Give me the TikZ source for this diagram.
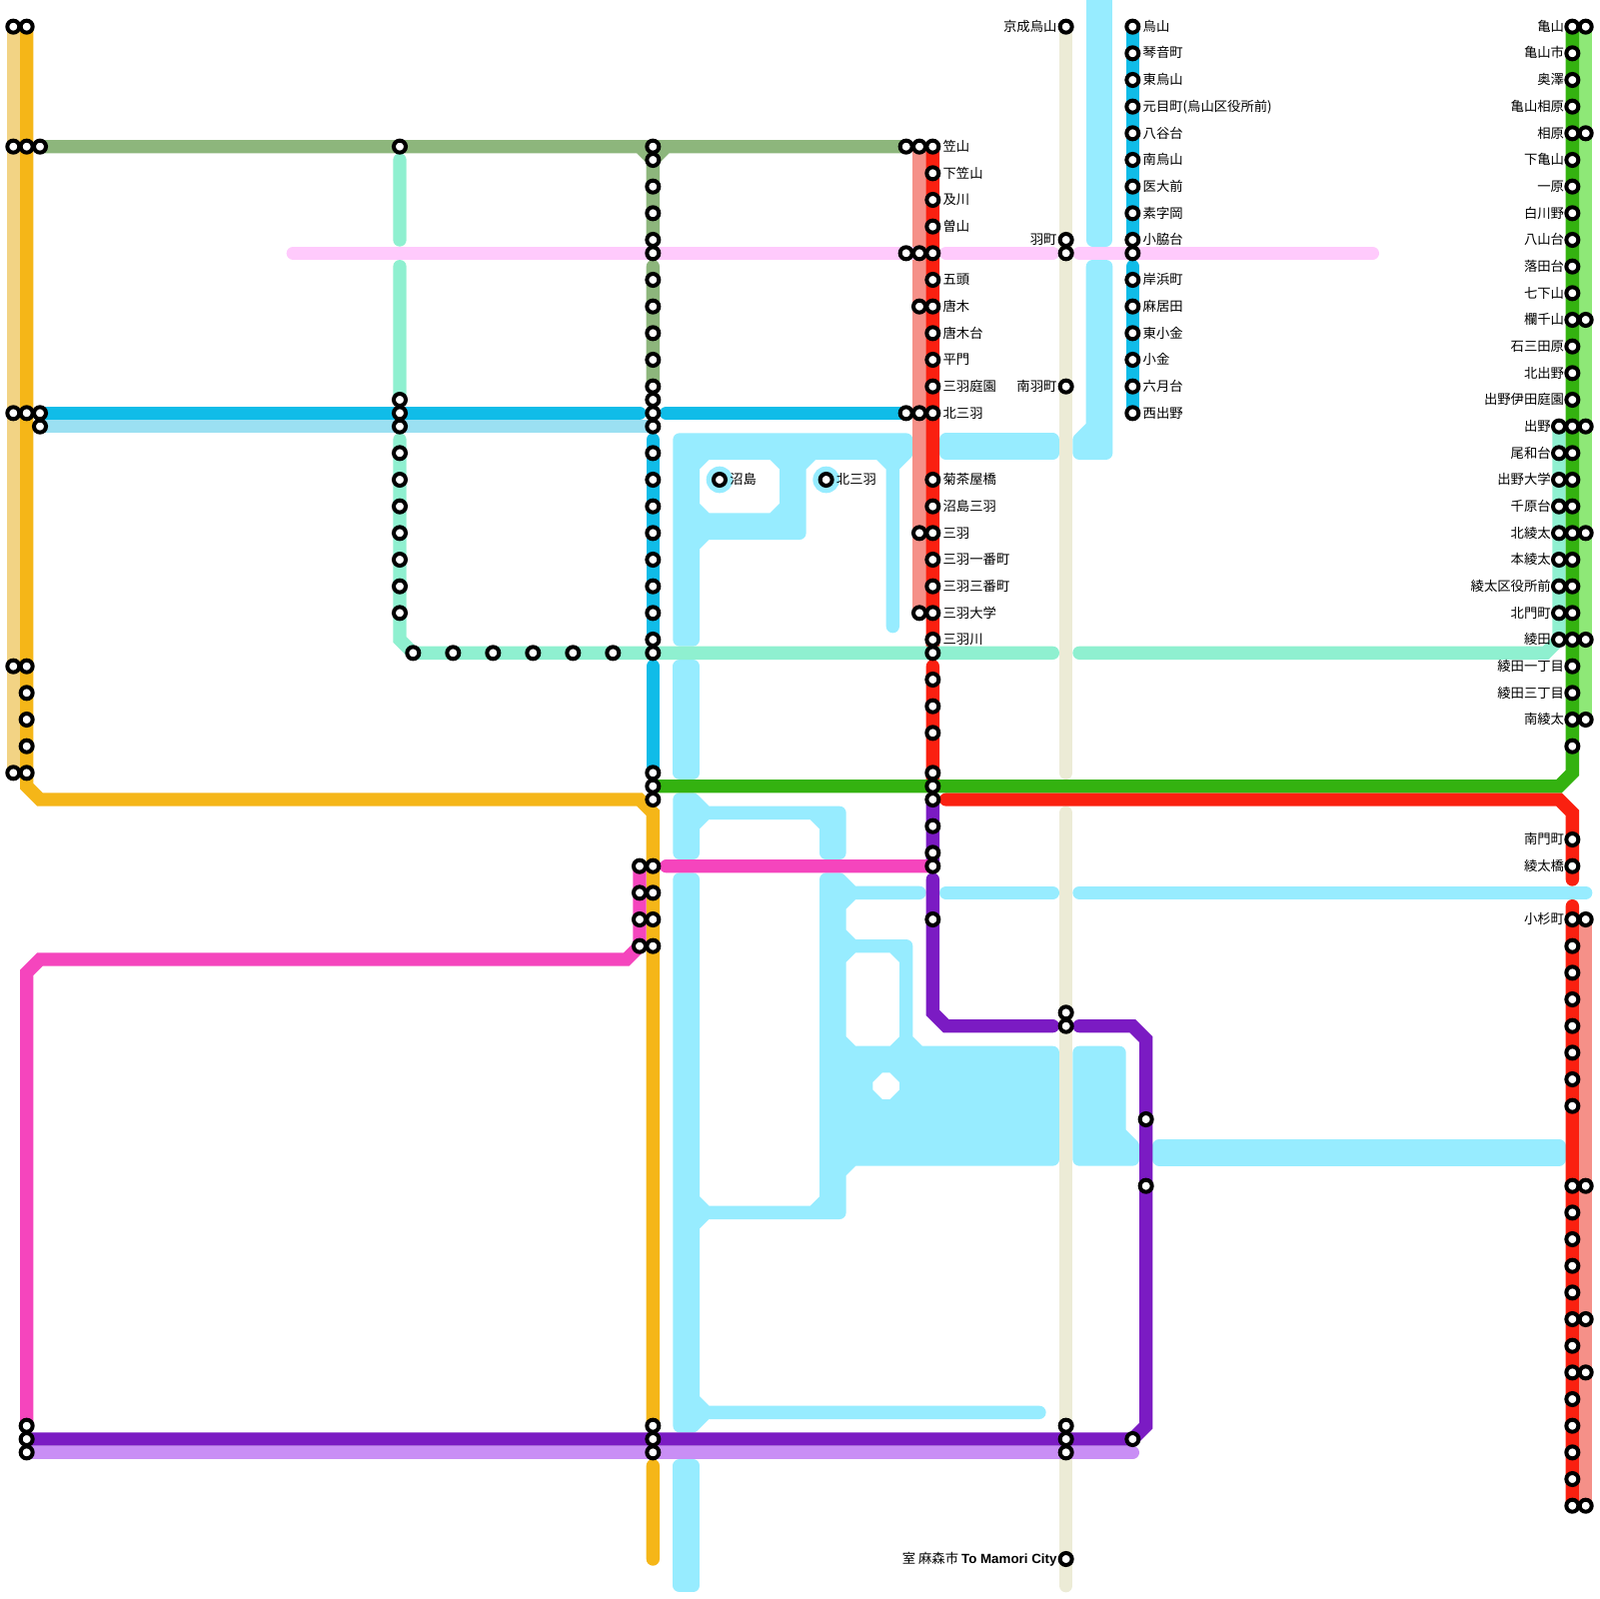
\documentclass[tikz,border=0pt]{standalone}
\usepackage{fontspec}
\setmainfont{Noto Sans CJK JP}
\newfontfamily\latn{Liberation Sans}
\usetikzlibrary{positioning}
\pgfdeclarelayer{back}
\pgfsetlayers{back,main}
\definecolor{cOrange}{HTML}{F5B618}
\definecolor{cTan}{HTML}{F2D384}
\definecolor{cSage}{HTML}{8DB67C}
\definecolor{cMint}{HTML}{8FF0D0}
\definecolor{cBlue}{HTML}{10BCE8}
\definecolor{cPale}{HTML}{9BE0F2}
\definecolor{cRed}{HTML}{FA2010}
\definecolor{cSalmon}{HTML}{F59088}
\definecolor{cGreen}{HTML}{34B210}
\definecolor{cLime}{HTML}{8EE877}
\definecolor{cPurple}{HTML}{7B1BC3}
\definecolor{cLilac}{HTML}{C98EF5}
\definecolor{cPink}{HTML}{F545BD}
\definecolor{cRose}{HTML}{FFCAFC}
\definecolor{cBeige}{HTML}{ECEBD6}
\definecolor{cWater}{HTML}{97ECFF}

\begin{document}
\begin{tikzpicture}[x=3mm,y=-3mm,font=\fontsize{8.54pt}{10pt}\selectfont]
  \tikzstyle{stn}=[circle,draw=black,fill=white,line width=0.9mm,inner sep=0pt,minimum size=2.7mm]
  \tikzstyle{txt}=[inner sep=0pt,text height=2.55mm,text depth=0.45mm]
  \tikzstyle{ln}=[line width=3mm,line cap=round]
  \tikzstyle{water}=[ln,draw=cWater,fill=cWater,even odd rule,line join=round]
  \tikzstyle{halo}=[circle,fill=cWater,inner sep=0pt,minimum size=6mm]

  \useasboundingbox (0,0) rectangle (120,120);

  \foreach \x/\rows in {1/{2,11,31,50,58},
      2/{2,11,31,50,52,54,56,58,107,108,109},
      3/{11,31,32},
      30/{11,30,31,32,34,36,38,40,42,44,46},
      31/{49},34/{49},37/{49},40/{49},43/{49},46/{49},
      48/{65,67,69,71},
      49/{11,12,14,16,18,19,21,23,25,27,29,30,31,32,34,36,38,40,42,44,46,48,49,58,59,60,65,67,69,71,107,108,109},
      54/{36},62/{36},
      68/{11,19,31},
      69/{11,19,23,31,40,46},
      70/{11,13,15,17,19,21,23,25,27,29,31,36,38,40,42,44,46,48,49,51,53,55,58,59,60,62,64,65,69},
      80/{2,18,19,29,76,77,107,108,109,117},
      85/{2,4,6,8,10,12,14,16,18,19,21,23,25,27,29,31,108},
      86/{84,89},
      117/{32,34,36,38,40,42,44,46,48},
      118/{2,4,6,8,10,12,14,16,18,20,22,24,26,28,30,32,34,36,38,40,42,44,46,48,50,52,54,56,63,65,69,71,73,75,77,79,81,83,89,91,93,95,97,99,101,103,105,107,109,111,113},
      119/{2,10,24,32,40,48,54,69,89,99,103,113}}
    \foreach \y in \rows
      \node[stn] (s\x-\y) at (\x,\y) {};

  \foreach \y/\t in {2/烏山,4/琴音町,6/東烏山,8/元目町(烏山区役所前),10/八谷台,12/南烏山,14/医大前,16/素字岡,18/小脇台,21/岸浜町,23/麻居田,25/東小金,27/小金,29/六月台,31/西出野}
    \node[txt] (t85-\y) [right=0.45mm of s85-\y] {\t};
  \foreach \y/\t in {11/笠山,13/下笠山,15/及川,17/曽山,21/五頭,23/唐木,25/唐木台,27/平門,29/三羽庭園,31/北三羽,36/菊茶屋橋,38/沼島三羽,40/三羽,42/三羽一番町,44/三羽三番町,46/三羽大学,48/三羽川}
    \node[txt] (t70-\y) [right=0.45mm of s70-\y] {\t};
  \foreach \y/\t in {2/京成烏山,18/羽町,29/南羽町}
    \node[txt] (t80-\y) [left=0.2mm of s80-\y] {\t};
  \node[txt] (t80-117) [left=0.2mm of s80-117] {室 麻森市 {\latn\bfseries To Mamori City}};
  \node[txt] (t54-36) [right=0.45mm of s54-36] {沼島};
  \node[txt] (t62-36) [right=0.45mm of s62-36] {北三羽};
  \foreach \y/\t in {2/亀山,4/亀山市,6/奥澤,8/亀山相原,10/相原,12/下亀山,14/一原,16/白川野,18/八山台,20/落田台,22/七下山,24/欄千山,26/石三田原,28/北出野,30/出野伊田庭園,50/綾田一丁目,52/綾田三丁目,54/南綾太,63/南門町,65/綾太橋,69/小杉町}
    \node[txt] (t118-\y) [left=0mm of s118-\y] {\t};
  \foreach \y/\t in {32/出野,34/尾和台,36/出野大学,38/千原台,40/北綾太,42/本綾太,44/綾太区役所前,46/北門町,48/綾田}
    \node[txt] (t117-\y) [left=0mm of s117-\y] {\t};

  \foreach \x/\y in {2/59,3/60,48/60,49/61,49/110,49/117,48/11,50/11,49/18,49/20,
      30/12,30/18,30/20,30/33,30/48,31/49,79/49,81/49,116/49,48/31,50/31,49/33,49/50,
      85/20,70/50,71/60,117/60,118/61,118/66,118/68,117/59,118/58,
      86/107,86/78,85/77,81/77,79/77,71/77,70/76,70/66,85/109,50/65,
      80/58,80/61,80/119,22/19,71/19,79/19,81/19,103/19,
      2/73,3/72,47/72}
    \coordinate (p\x-\y) at (\x,\y);

  \begin{pgfonlayer}{back}
    \path[water] (82,0) -- (83,0) -- (83,18) -- (82,18) -- cycle;
    \path[water] (82,20) -- (83,20) -- (83,34) -- (81,34) -- (81,33) -- (82,32) -- cycle;
    \path[water] (51,33) -- (68,33) -- (68,34) -- (67,35) -- (67,47) -- (67,35) -- (66,34) -- (61,34)
        -- (60,35) -- (60,40) -- (53,40) -- (52,41) -- (52,48) -- (51,48) -- cycle
        (52,35) -- (53,34) -- (58,34) -- (59,35) -- (59,38) -- (58,39) -- (53,39) -- (52,38) -- cycle;
    \path[water] (71,33) -- (79,33) -- (79,34) -- (71,34) -- cycle;
    \path[water] (51,50) -- (52,50) -- (52,58) -- (51,58) -- cycle;
    \path[water] (51,60) -- (52,60) -- (53,61) -- (63,61) -- (63,64) -- (62,64) -- (62,62) -- (61,61)
        -- (53,61) -- (52,62) -- (52,64) -- (51,64) -- cycle;
    \path[water] (51,66) -- (52,66) -- (52,90) -- (53,91) -- (61,91) -- (62,90) -- (62,66) -- (63,66)
        -- (64,67) -- (69,67) -- (64,67) -- (63,68) -- (63,70) -- (64,71) -- (68,71) -- (68,78) -- (69,79)
        -- (79,79) -- (79,87) -- (64,87) -- (63,88) -- (63,91) -- (53,91) -- (52,92) -- (52,105) -- (53,106)
        -- (78,106) -- (53,106) -- (52,107) -- (51,107) -- cycle
        (63,72) -- (64,71) -- (67,71) -- (68,72) -- (68,78) -- (67,79) -- (64,79) -- (63,78) -- cycle
        (65,81) -- (66,80) -- (67,80) -- (68,81) -- (68,82) -- (67,83) -- (66,83) -- (65,82) -- cycle;
    \path[water] (51,110) -- (52,110) -- (52,119) -- (51,119) -- cycle;
    \path[water] (71,67) -- (79,67);
    \path[water] (81,67) -- (119,67);
    \path[water] (81,79) -- (84,79) -- (84,85) -- (85,86) -- (85,87) -- (81,87) -- cycle;
    \path[water] (87,86) -- (117,86) -- (117,87) -- (87,87) -- cycle;
    \node[halo] (h54) at (54,36) {};
    \node[halo] (h62) at (62,36) {};

    \draw[ln,cBeige] (s80-2.center) -- (p80-58) (p80-61) -- (p80-119);
    \draw[ln,cTan] (s1-2.center) -- (s1-58.center);
    \draw[ln,cOrange] (s2-2.center) -- (p2-59) -- (p3-60) -- (p48-60) -- (p49-61) -- (s49-107.center)
        (p49-110) -- (p49-117);
    \draw[ln,cSage] (s3-11.center) -- (s68-11.center)
        (p48-11) -- (s49-12.center) -- (p50-11)
        (s49-12.center) -- (p49-18)
        (p49-20) -- (s49-29.center);
    \draw[ln,cPale] (s3-32.center) -- (s49-32.center);
    \draw[ln,cBlue] (s3-31.center) -- (p48-31) (p50-31) -- (s68-31.center)
        (p49-33) -- (s49-48.center) (p49-50) -- (s49-58.center)
        (s85-2.center) -- (s85-18.center) (p85-20) -- (s85-31.center);
    \draw[ln,cSalmon] (s69-11.center) -- (s69-46.center);
    \draw[ln,cRed] (s70-11.center) -- (s70-49.center) (p70-50) -- (s70-59.center)
        (p71-60) -- (p117-60) -- (p118-61) -- (p118-66)
        (p118-68) -- (s118-113.center);
    \draw[ln,cSalmon] (s119-69.center) -- (s119-113.center);
    \draw[ln,cLime] (s119-2.center) -- (s119-54.center);
    \draw[ln,cMint] (p30-12) -- (p30-18) (p30-20) -- (s30-30.center)
        (p30-33) -- (p30-48) -- (p31-49) -- (p79-49)
        (p81-49) -- (p116-49) -- (s117-48.center) -- (s117-32.center);
    \draw[ln,cGreen] (s49-59.center) -- (p117-59) -- (p118-58) -- (s118-2.center);
    \draw[ln,cRose] (p22-19) -- (s69-19.center) (p71-19) -- (p79-19) (p81-19) -- (p103-19);
    \draw[ln,cLilac] (s2-109.center) -- (p85-109);
    \draw[ln,cPurple] (s2-108.center) -- (s85-108.center) -- (p86-107) -- (p86-78) -- (p85-77) -- (p81-77)
        (p79-77) -- (p71-77) -- (p70-76) -- (p70-66)
        (s70-60.center) -- (s70-65.center);
    \draw[ln,cPink] (s2-107.center) -- (p2-73) -- (p3-72) -- (p47-72) -- (s48-71.center) -- (s48-65.center)
        (p50-65) -- (s70-65.center);
  \end{pgfonlayer}
\end{tikzpicture}
\end{document}
